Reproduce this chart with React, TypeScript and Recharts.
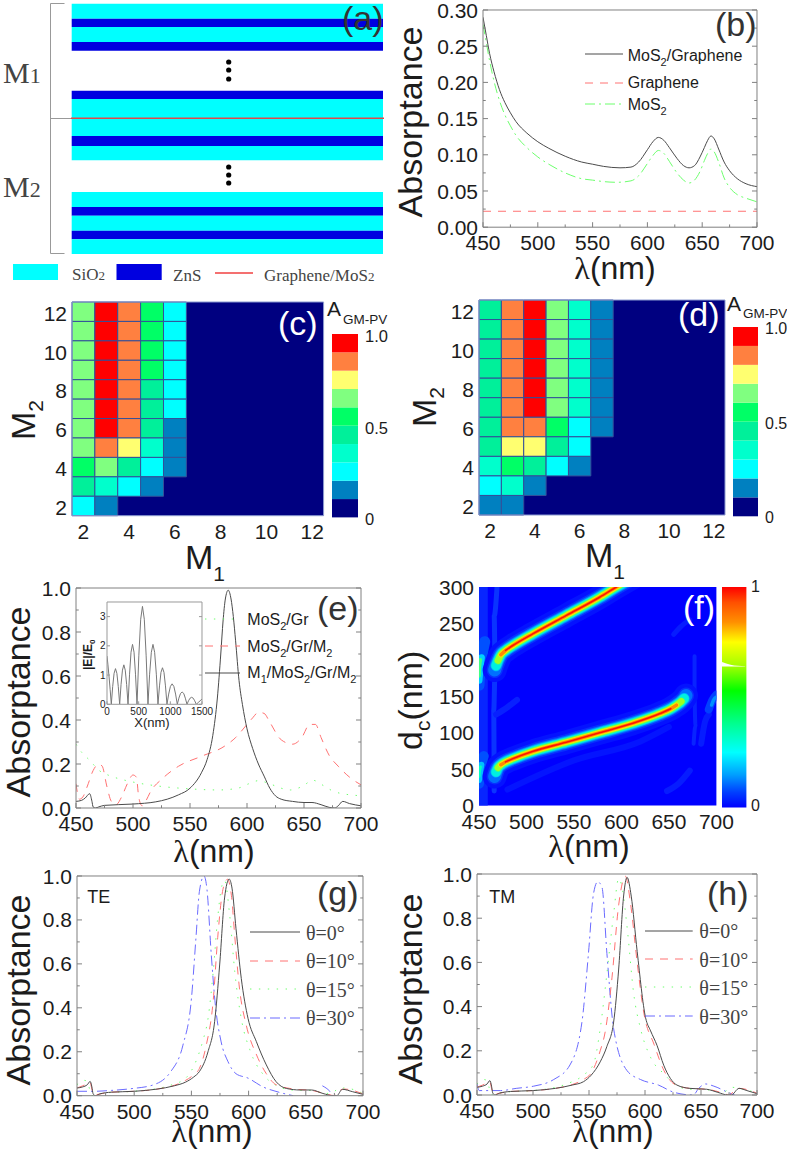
import React from 'react';
import { ComposedChart, XAxis, YAxis, Line, Area, Scatter, ReferenceArea, ReferenceLine } from 'recharts';

const SANS = '"Liberation Sans", Arial, sans-serif';
const SERIF = '"Liberation Serif", "Times New Roman", serif';
const FRAME = '#808080';
const INK = '#1c1c1c';
const BLACK = '#4a4a4a';
const RED = '#ff7272';
const GREEN = '#6cff6c';
const BLUE = '#6a6aff';
const DASH_RED = '8 7';
const DASH_GREEN = '10 4 2 4';
const DASH_GREEN_DOT = '1.4 7.5';
const DASH_BLUE = '10 4 2 4';

type Pt = [number, number | null];

/* ---------- (a) layer stack ---------- */
const SILICA = '#00ffff';
const ZNS = '#0000e0';
const stackX = [71.7, 383];
const layerTop = [3.7, 18.7, 27, 42, 90.7, 99, 118, 136, 146, 192, 207, 215.7, 230.7, 239.3];
const layerEnd = [18.7, 27, 42, 50.7, 99, 118, 136, 146, 160.3, 207, 215.7, 230.7, 239.3, 254];
const layerIsZnS = [0, 1, 0, 1, 1, 0, 0, 1, 0, 0, 1, 0, 1, 0];
const ellipsisDots: Pt[] = [[228.7, 62], [228.7, 70], [228.7, 79], [228.7, 167], [228.7, 175], [228.7, 183]];
const bracketSegments: [Pt, Pt][] = [
  [[64.5, 3.5], [50.5, 3.5]], [[50.5, 3.5], [50.5, 253.5]], [[50.5, 253.5], [64.5, 253.5]], [[50.5, 118.5], [71, 118.5]],
];
const interfaceLine: [Pt, Pt] = [[71, 118.2], [384, 118.2]];
const legendLine: [Pt, Pt] = [[215, 273], [253, 273]];

/* ---------- (b) ---------- */
const bTotal: Pt[] = [[450,.29],[453,.265],[456,.24],[460,.215],[465,.19],[470,.172],[475,.158],[480,.146],[490,.13],[500,.118],[510,.109],[525,.098],[540,.09],[550,.087],[560,.084],[575,.082],[585,.083],[592,.09],[600,.107],[605,.118],[610,.124],[615,.12],[620,.11],[627,.095],[633,.085],[638,.082],[643,.085],[648,.097],[652,.11],[655,.12],[658,.126],[661,.122],[665,.108],[670,.09],[675,.078],[682,.067],[690,.06],[700,.056]];
const bGraphene: Pt[] = [[450,.022],[700,.022]];
const bMoS2: Pt[] = [[450,.28],[453,.255],[456,.23],[460,.202],[465,.175],[470,.155],[475,.14],[480,.127],[490,.11],[500,.097],[510,.087],[525,.075],[540,.067],[550,.065],[560,.063],[572,.062],[585,.064],[592,.071],[600,.088],[605,.099],[610,.106],[615,.102],[620,.091],[627,.075],[633,.065],[638,.061],[643,.065],[648,.077],[652,.092],[655,.102],[658,.108],[661,.104],[665,.09],[670,.068],[675,.055],[682,.045],[690,.04],[700,.035]];

/* ---------- (c) (d) heat maps: colour level per M1 = 2, 3, ... ; rows M2 = 12 down to 2 ---------- */
const levelColors = ['#000080', '#0080c0', '#00ffff', '#00ffcc', '#00f09a', '#00ff66', '#80ff80', '#ffff70', '#ff8040', '#ff0000'];
const heatC = [
  [6, 9, 8, 5, 2], [6, 9, 8, 5, 2], [6, 9, 8, 5, 2], [6, 9, 8, 5, 2], [6, 9, 8, 4, 2], [6, 9, 8, 4, 2],
  [6, 9, 8, 4, 1], [6, 8, 7, 3, 1], [5, 6, 4, 2, 1], [4, 3, 2, 1, 0], [2, 1, 0, 0, 0],
];
const heatD = [
  [4, 8, 9, 6, 3, 1], [4, 8, 9, 6, 3, 1], [4, 8, 9, 6, 3, 1], [4, 8, 9, 6, 3, 1], [4, 8, 9, 6, 3, 1], [4, 8, 9, 6, 3, 1],
  [4, 8, 8, 5, 2, 1], [4, 7, 7, 4, 2, 0], [3, 5, 4, 2, 1, 0], [2, 3, 1, 0, 0, 0], [1, 1, 0, 0, 0, 0],
];
const mTicks = [2, 4, 6, 8, 10, 12];

/* ---------- (e) ---------- */
const eFull: Pt[] = [[450,.03],[455,.035],[458,.045],[462,.065],[464,.03],[465,.005],[467,0],[470,.005],[475,.012],[500,.018],[520,.028],[530,.04],[540,.06],[550,.09],[560,.16],[565,.22],[570,.33],[574,.5],[577,.7],[579,.85],[581,.95],[583.5,.99],[586,.95],[588,.87],[590,.76],[593,.58],[596,.47],[600,.36],[605,.27],[610,.2],[615,.145],[620,.09],[625,.055],[630,.04],[640,.03],[650,.025],[657,.025],[665,.015],[672,.003],[677,0],[680,.01],[684,.03],[690,.02],[700,.01]];
const eHalf: Pt[] = [[450,.11],[453,.04],[456,.05],[460,.1],[465,.17],[470,.2],[473,.19],[477,.1],[481,.03],[485,.015],[490,.05],[495,.11],[500,.15],[503,.14],[505,.05],[508,.01],[511,.03],[516,.08],[525,.13],[540,.19],[560,.235],[580,.28],[590,.32],[600,.38],[605,.41],[610,.435],[615,.43],[620,.39],[630,.31],[640,.29],[648,.32],[655,.38],[660,.38],[665,.32],[672,.24],[680,.19],[690,.14],[700,.105]];
const eBare: Pt[] = [[450,.29],[455,.253],[462,.217],[470,.172],[480,.146],[490,.13],[500,.118],[525,.098],[550,.087],[575,.082],[592,.09],[600,.107],[610,.124],[620,.11],[630,.09],[638,.082],[648,.097],[658,.126],[665,.108],[675,.078],[690,.06],[700,.056]];
const insetField: Pt[] = [[0,1.65],[15,1.35],[30,1],[50,.5],[68,0],[90,.61],[112,1.06],[134,1.22],[156,1.06],[178,.61],[200,0],[222,.68],[244,1.17],[266,1.35],[288,1.17],[310,.68],[332,0],[356,1.03],[379,1.78],[403,2.05],[427,1.78],[450,1.03],[474,0],[503,1.68],[532,2.91],[560,3.35],[589,2.91],[618,1.68],[647,0],[673,1.03],[700,1.78],[726,2.05],[752,1.78],[779,1.03],[805,0],[829,.63],[852,1.09],[876,1.25],[900,1.09],[923,.63],[947,0],[974,.35],[1001,.61],[1028,.7],[1056,.61],[1083,.35],[1110,0],[1135,.21],[1161,.37],[1186,.42],[1212,.37],[1237,.21],[1263,0],[1287,.12],[1312,.21],[1336,.24],[1361,.21],[1385,.12],[1410,0],[1440,.06],[1470,.12],[1500,.18]];

/* ---------- (f) ---------- */
const ridgeLow: Pt[] = [[466.5,40],[468,46],[470,52],[473,56],[478,60],[486,64.5],[507,74.5],[542,87],[577,100],[612,113],[640,126],[652,133],[658,138],[663,143],[666,147],[668,151]];
const ridgeHigh: Pt[] = [[466.5,186],[468,192],[470,199],[473,207],[478,213],[486,220],[507,236],[542,261],[577,286],[594.7,300],[612,313]];
const ridgeBands = [
  { w: 24, c: '#0412ff', trim: 0 }, { w: 16, c: '#0830ff', trim: 0 }, { w: 13, c: '#0070ff', trim: 0 }, { w: 11, c: '#00b0ff', trim: 1 }, { w: 9.5, c: '#00f0e0', trim: 1 }, { w: 8, c: '#30ff90', trim: 2 },
  { w: 6.5, c: '#a0ff20', trim: 2 }, { w: 5, c: '#ffe800', trim: 3 }, { w: 3.4, c: '#ff8a00', trim: 3 }, { w: 1.6, c: '#ff1400', trim: 4 },
];
const fGlows: { pts: Pt[]; w: number; c: string }[] = [
  { pts: [[454.5,0],[454.5,300]], w: 9, c: '#0826ff' },
  { pts: [[466,20],[465.5,130],[467,190],[466,260],[469,300]], w: 5, c: '#0a34ff' },
  { pts: [[468,125],[480,135],[490,145]], w: 6, c: '#0820ff' },
  { pts: [[480,22],[550,62],[620,88],[650,108]], w: 6, c: '#0414ff' },
  { pts: [[677,205],[677,160],[678,110],[676,85]], w: 4, c: '#0824ff' },
  { pts: [[684,85],[688,115],[692,125]], w: 6, c: '#061cff' },
  { pts: [[648,20],[660,30],[672,48]], w: 6, c: '#061cff' },
  { pts: [[655,235],[662,245],[672,255]], w: 5, c: '#061cff' },
  { pts: [[664,146],[668,154],[672,158]], w: 8, c: '#0040ff' },
  { pts: [[692,132],[696,145],[700,152]], w: 8, c: '#0040ff' },
  { pts: [[695,138],[697,145],[700,149]], w: 3.5, c: '#0090ff' },
  { pts: [[450,165],[451,185],[453,205],[456,225]], w: 11, c: '#0050ff' },
  { pts: [[450,172],[451,187],[452.5,203]], w: 7, c: '#00d0ff' },
  { pts: [[450,178],[450.5,190],[451.5,200]], w: 3.5, c: '#40ff80' },
  { pts: [[450,30],[451,45],[453,60],[455,68]], w: 10, c: '#0050ff' },
  { pts: [[450,35],[451,45],[452.5,56]], w: 6, c: '#00c0ff' },
  { pts: [[450,40],[450.5,47],[451.5,53]], w: 3, c: '#00ffc0' },
];
const cbarStops: [number, string][] = [[0,'#ff0000'],[.07,'#ff5000'],[.16,'#ff9000'],[.25,'#ffff00'],[.36,'#a0ff00'],[.47,'#00ff00'],[.62,'#00ff90'],[.75,'#00ffff'],[.85,'#00a0ff'],[.93,'#0040ff'],[1,'#0000ff']];
const cbarNotch = [{ x: 0, band: [.64, .66] }, { x: .35, band: [.64, .648] }, { x: .95, band: [.64, .641] }];

/* ---------- (g) TE ---------- */
const gDeg0: Pt[] = [[450,.035],[455,.04],[459,.05],[461.5,.065],[463,.04],[464,.01],[466,0],[470,.008],[480,.016],[500,.02],[520,.03],[535,.045],[545,.062],[552,.085],[557,.11],[564.5,.2],[570.3,.337],[574.7,.595],[579,.9],[583,.986],[585.5,.945],[589,.76],[593.6,.534],[599.5,.352],[606.8,.246],[615.5,.14],[624,.064],[633,.033],[645,.026],[655,.026],[665,.01],[674,0],[677,0],[682,.029],[691,.018],[700,.006]];
const gDeg10: Pt[] = [[450,.035],[455,.045],[459,.055],[461.5,.06],[463,.03],[465,.003],[470,.008],[480,.016],[500,.02],[520,.03],[535,.047],[545,.07],[552,.095],[557,.124],[563,.23],[569,.43],[573,.72],[577.6,.94],[581.5,.985],[585,.91],[588,.72],[592,.49],[598,.32],[607,.185],[615.5,.1],[624,.05],[640,.03],[655,.024],[670,.005],[675,0],[680,.025],[684,.03],[700,.008]];
const gDeg15: Pt[] = [[450,.05],[456,.07],[459,.065],[461,.03],[463,0],[466,.005],[480,.015],[500,.02],[530,.045],[545,.08],[555,.17],[560,.25],[564.5,.35],[569,.56],[573,.81],[576,.94],[579,.98],[583.5,.82],[588,.56],[594,.34],[601,.21],[613,.095],[623,.05],[640,.025],[655,.024],[665,.012],[672,.01],[678,.03],[684,.035],[700,.01]];
const gDeg30: Pt[] = [[450,.02],[465,.02],[480,.024],[499,.033],[516,.048],[532,.11],[542.6,.23],[550,.44],[554,.72],[557,.93],[561,1],[563.6,.94],[567.4,.64],[571,.41],[576,.245],[582,.155],[589,.1],[599.5,.08],[612.6,.04],[627,.015],[639,0],[640,null],[664,null],[664.5,.045],[671,.02],[674,0]];

/* ---------- (h) TM ---------- */
const hDeg0: Pt[] = [[450,.035],[455,.04],[459,.05],[461.5,.065],[463,.04],[464,.01],[466,0],[470,.008],[480,.016],[500,.02],[520,.03],[535,.045],[545,.06],[552,.09],[560,.15],[566,.22],[572,.33],[576.5,.57],[581,.905],[584,.985],[587.7,.9],[593,.65],[600.5,.35],[605,.29],[610.7,.225],[616.7,.135],[628.5,.045],[640,.03],[655,.026],[665,.012],[674,0],[677,0],[684,.03],[691,.02],[700,.006]];
const hDeg10: Pt[] = [[450,.035],[455,.045],[459,.055],[461.5,.06],[463,.03],[465,.003],[470,.008],[480,.016],[500,.02],[520,.03],[535,.047],[545,.07],[552,.1],[560,.2],[564.6,.29],[570.5,.53],[576.5,.86],[582.5,.99],[587,.87],[593,.6],[599,.37],[608,.23],[617,.11],[626,.05],[640,.03],[655,.026],[670,.008],[675,0],[680,.02],[684,.03],[700,.008]];
const hDeg15: Pt[] = [[450,.05],[456,.07],[459,.065],[461,.03],[463,0],[466,.005],[480,.015],[500,.02],[530,.05],[545,.09],[554,.14],[560,.3],[566,.55],[572,.82],[576.5,.98],[579.5,.94],[584,.76],[590,.455],[596,.3],[605,.17],[617,.095],[629,.04],[640,.026],[655,.024],[670,.012],[677,.035],[684,.03],[700,.01]];
const hDeg30: Pt[] = [[450,.05],[452,.02],[471,.02],[485,.03],[500.6,.04],[518.5,.07],[533,.136],[543.7,.33],[549.5,.64],[554,.91],[557.8,.965],[561.6,.94],[566,.64],[572,.3],[584,.11],[596,.07],[612,.045],[626,.012],[643,0],[648,.03],[654,.05],[661.5,.04],[675,.01],[680,0]];

const lamTicks = [450,475,500,525,550,575,600,625,650,675,700];
const lamMajor = [450,500,550,600,650,700];
const absTicks = [0,.1,.2,.3,.4,.5,.6,.7,.8,.9,1];
const absMajor = [0,.2,.4,.6,.8,1];
const bTicks = [0,.025,.05,.075,.1,.125,.15,.175,.2,.225,.25,.275,.3];
const bMajor = [0,.05,.1,.15,.2,.25,.3];
const dcTicks = [0,50,100,150,200,250,300];

const toPts = (a: Pt[]) => a.map(([x, y]) => ({ x, y }));

type Box = [number, number, number, number];

function makeTick(side: string, major: number[], fmt: ((v: number) => string) | null, o: any) {
  return (p: any) => {
    const v = p.payload.value;
    const isMajor = major.some((m) => Math.abs(m - v) < 1e-6);
    const l = isMajor ? o.len : o.len * 0.55;
    const { x, y } = p;
    const tick =
      side === 'bottom' ? [x, y, x, y - l] : side === 'top' ? [x, y, x, y + l] : side === 'left' ? [x, y, x + l, y] : [x, y, x - l, y];
    return (
      <g>
        {o.len > 0 && <line x1={tick[0]} y1={tick[1]} x2={tick[2]} y2={tick[3]} stroke={o.tickColor} strokeWidth={1} />}
        {isMajor && fmt && side === 'bottom' && (
          <text x={x} y={y + o.xOff} textAnchor="middle" fontSize={o.font} fontFamily={SANS} fill={INK}>{fmt(v)}</text>
        )}
        {isMajor && fmt && side === 'left' && (
          <text x={x - o.yOff} y={y + o.font * 0.36 + (o.yShift || 0)} textAnchor="end" fontSize={o.font} fontFamily={SANS} fill={INK}>{fmt(v)}</text>
        )}
      </g>
    );
  };
}

function Plot(props: any) {
  const { box, xDomain, yDomain, xTicks, yTicks, xMajor, yMajor, xFmt, yFmt, children, frame = FRAME, len = 5, font = 21, xOff = 23, yOff = 5, yShift = 0, mirror = true, tickColor = FRAME, noAxes = false } = props;
  const [l, t, w, h] = box as Box;
  const pad = { left: 70, right: 30, top: 24, bottom: 36 };
  // each visible axis takes one pixel of band from the margin, so the inner box stays where it was measured
  const near = noAxes ? 0 : 1;
  const far = !noAxes && mirror ? 1 : 0;
  const m = { left: pad.left - near, right: pad.right - far, top: pad.top - far, bottom: pad.bottom - near };
  const o = { len, font, xOff, yOff, yShift, tickColor };
  const common = { type: 'number' as const, interval: 0 as const, tickLine: false, tickSize: 0, tickMargin: 0, allowDataOverflow: true };
  const line = frame ? { stroke: frame } : false;
  return (
    <div style={{ position: 'absolute', left: l - pad.left, top: t - pad.top }}>
      <ComposedChart width={w + pad.left + pad.right} height={h + pad.top + pad.bottom} margin={m}>
        {children}
        <XAxis xAxisId={0} dataKey="x" hide={noAxes} height={1} domain={xDomain} ticks={xTicks} orientation="bottom" axisLine={line} tick={makeTick('bottom', xMajor, xFmt, o)} {...common} />
        <YAxis yAxisId={0} dataKey="y" hide={noAxes} width={1} domain={yDomain} ticks={yTicks} orientation="left" axisLine={line} tick={makeTick('left', yMajor, yFmt, o)} {...common} />
        {mirror && <XAxis xAxisId="top" height={1} domain={xDomain} ticks={xTicks} orientation="top" axisLine={line} tick={makeTick('top', xMajor, null, o)} {...common} />}
        {mirror && <YAxis yAxisId="right" width={1} domain={yDomain} ticks={yTicks} orientation="right" axisLine={line} tick={makeTick('right', yMajor, null, o)} {...common} />}
      </ComposedChart>
    </div>
  );
}

const curve = (key: string, pts: Pt[], stroke: string, dash?: string, width = 1) => (
  <Line key={key} data={toPts(pts)} dataKey="y" type="monotone" stroke={stroke} strokeWidth={width} strokeDasharray={dash} dot={false} activeDot={false} isAnimationActive={false} xAxisId={0} yAxisId={0} />
);

function Heat({ box, grid }: { box: Box; grid: number[][] }) {
  const cells = grid.flatMap((row, r) =>
    row.map((lv, c) => ({ m1: c + 2, m2: 12 - r, lv }))
  );
  return (
    <Plot box={box} xDomain={[1.5, 12.5]} yDomain={[1.5, 12.5]} xTicks={mTicks} yTicks={mTicks} xMajor={mTicks} yMajor={mTicks}
      xFmt={String} yFmt={String} len={0} frame="#8c9bd0" yShift={1.5}>
      <ReferenceArea x1={1.5} x2={12.5} y1={1.5} y2={12.5} fill={levelColors[0]} fillOpacity={1} stroke="none" xAxisId={0} yAxisId={0} />
      {cells.filter((k) => k.lv > 0).map((k) => (
        <ReferenceArea key={`${k.m1}-${k.m2}`} x1={k.m1 - .5} x2={k.m1 + .5} y1={k.m2 - .5} y2={k.m2 + .5} fill={levelColors[k.lv]} fillOpacity={1} stroke="#33509a" strokeWidth={1} xAxisId={0} yAxisId={0} />
      ))}
    </Plot>
  );
}

function LevelBar({ box }: { box: Box }) {
  return (
    <Plot box={box} noAxes mirror={false} xDomain={[0, 1]} yDomain={[0, 10]} xTicks={[0, 1]} yTicks={[0, 10]} xMajor={[]} yMajor={[]}>
      {levelColors.map((c, i) => (
        <ReferenceArea key={c} x1={0} x2={1} y1={i} y2={i + 1} fill={c} fillOpacity={1} stroke="none" xAxisId={0} yAxisId={0} />
      ))}
    </Plot>
  );
}

const Tx = ({ x, y, size, fam = SANS, fill = INK, anchor = 'start', rot = false, children }: any) => (
  <text x={x} y={y} fontSize={size} fontFamily={fam} fill={fill} textAnchor={anchor} transform={rot ? `rotate(-90 ${x} ${y})` : undefined}>{children}</text>
);
const Sub = ({ dy = 5, size, children }: any) => (
  <tspan baselineShift={-dy} fontSize={size}>{children}</tspan>
);
const Lam = () => <tspan fontFamily={SERIF}>λ</tspan>;
const LamTitle = ({ x, y }: any) => <Tx x={x} y={y} size={32} anchor="middle"><Lam />(nm)</Tx>;
const AbsTitle = ({ x, y }: any) => <Tx x={x} y={y} size={34} anchor="middle" rot>Absorptance</Tx>;
const Sample = ({ x1, x2, y, stroke, dash }: any) => <line x1={x1} x2={x2} y1={y} y2={y} stroke={stroke} strokeWidth={1} strokeDasharray={dash} />;
const PanelTag = ({ x, y, t, fill = '#333' }: any) => <Tx x={x} y={y} size={34} fill={fill}>{t}</Tx>;

function Overlay() {
  const gray = '#444';
  return (
    <svg width={787} height={1153} style={{ position: 'absolute', left: 0, top: 0, pointerEvents: 'none' }}>
      {/* (a) */}
      <PanelTag x={342} y={30} t="(a)" />
      <Tx x={3} y={83} size={30} fam={SERIF} fill={gray}>M<tspan fontSize={22}>1</tspan></Tx>
      <Tx x={3} y={197} size={30} fam={SERIF} fill={gray}>M<tspan fontSize={22}>2</tspan></Tx>
      <Tx x={72} y={280} size={17} fam={SERIF} fill={gray}>SiO<tspan fontSize={13}>2</tspan></Tx>
      <Tx x={173} y={281} size={17} fam={SERIF} fill={gray}>ZnS</Tx>
      <Tx x={264} y={281} size={17} fam={SERIF} fill={gray}>Graphene/MoS<tspan fontSize={13}>2</tspan></Tx>
      {/* (b) */}
      <PanelTag x={715} y={36} t="(b)" />
      <AbsTitle x={422} y={122} />
      <LamTitle x={615} y={279} />
      <Sample x1={585} x2={623} y={54} stroke={BLACK} />
      <Sample x1={585} x2={623} y={83} stroke={RED} dash={DASH_RED} />
      <Sample x1={585} x2={623} y={104} stroke={GREEN} dash={DASH_GREEN} />
      <Tx x={627.7} y={60.7} size={16}>MoS<Sub dy={5} size={11}>2</Sub>/Graphene</Tx>
      <Tx x={627.7} y={88.3} size={16}>Graphene</Tx>
      <Tx x={627.7} y={110} size={16}>MoS<Sub dy={5} size={11}>2</Sub></Tx>
      {/* (c) */}
      <PanelTag x={278} y={335} t="(c)" fill="#fff" />
      <Tx x={327} y={315.7} size={21}>A</Tx>
      <Tx x={343} y={324} size={13.5}>GM-PV</Tx>
      <Tx x={365} y={342} size={16.5}>1.0</Tx>
      <Tx x={365} y={433.5} size={16.5}>0.5</Tx>
      <Tx x={365} y={525} size={16.5}>0</Tx>
      <g transform="rotate(-90 35 440)">
        <Tx x={35} y={440} size={34}>M<Sub dy={8} size={21}>2</Sub></Tx>
      </g>
      <Tx x={185} y={569} size={34}>M<Sub dy={12} size={21}>1</Sub></Tx>
      {/* (d) */}
      <PanelTag x={678} y={326} t="(d)" fill="#fff" />
      <Tx x={727} y={311} size={21}>A</Tx>
      <Tx x={743} y={318} size={13.5}>GM-PV</Tx>
      <Tx x={765} y={334} size={16}>1.0</Tx>
      <Tx x={765} y={429} size={16}>0.5</Tx>
      <Tx x={765} y={523} size={16}>0</Tx>
      <g transform="rotate(-90 436 427)">
        <Tx x={436} y={427} size={34}>M<Sub dy={8} size={21}>2</Sub></Tx>
      </g>
      <Tx x={585} y={567} size={34}>M<Sub dy={12} size={21}>1</Sub></Tx>
      {/* (e) */}
      <PanelTag x={317} y={620} t="(e)" />
      <AbsTitle x={30} y={702} />
      <LamTitle x={214} y={862} />
      <Sample x1={205} x2={240} y={619} stroke={GREEN} dash={DASH_GREEN_DOT} />
      <Sample x1={205} x2={240} y={646} stroke={RED} dash={DASH_RED} />
      <Sample x1={205} x2={240} y={673} stroke={BLACK} />
      <Tx x={247.3} y={625} size={16}>MoS<Sub dy={5} size={11}>2</Sub>/Gr</Tx>
      <Tx x={247.3} y={651.7} size={16}>MoS<Sub dy={5} size={11}>2</Sub>/Gr/M<Sub dy={5} size={11}>2</Sub></Tx>
      <Tx x={247.3} y={678.3} size={16}>M<Sub dy={5} size={11}>1</Sub>/MoS<Sub dy={5} size={11}>2</Sub>/Gr/M<Sub dy={5} size={11}>2</Sub></Tx>
      <Tx x={152} y={726.7} size={13} anchor="middle">X(nm)</Tx>
      <g transform="rotate(-90 92 670)">
        <text x={92} y={670} fontSize={12} fontFamily={SANS} fontWeight="bold" fill={INK}>|E|/E<Sub dy={3} size={8}>0</Sub></text>
      </g>
      {/* (f) */}
      <PanelTag x={683} y={619} t="(f)" fill="#fff" />
      <Tx x={751} y={592} size={16}>1</Tx>
      <Tx x={751} y={811} size={16}>0</Tx>
      <g transform="rotate(-90 422 750)">
        <Tx x={422} y={750} size={34}>d<Sub dy={8} size={21}>c</Sub>(nm)</Tx>
      </g>
      <LamTitle x={589} y={857} />
      {/* (g) */}
      <PanelTag x={317} y={905} t="(g)" />
      <Tx x={87.3} y={902.7} size={18}>TE</Tx>
      <AbsTitle x={30} y={990} />
      <LamTitle x={212} y={1142} />
      <Sample x1={250} x2={300} y={932} stroke={BLACK} />
      <Sample x1={250} x2={300} y={961} stroke={RED} dash={DASH_RED} />
      <Sample x1={250} x2={300} y={989} stroke={GREEN} dash={DASH_GREEN_DOT} />
      <Sample x1={250} x2={300} y={1018} stroke={BLUE} dash={DASH_BLUE} />
      <Tx x={306} y={940} size={20} fam={SERIF} fill={gray}>θ=0°</Tx>
      <Tx x={306} y={968} size={20} fam={SERIF} fill={gray}>θ=10°</Tx>
      <Tx x={306} y={997} size={20} fam={SERIF} fill={gray}>θ=15°</Tx>
      <Tx x={306} y={1025} size={20} fam={SERIF} fill={gray}>θ=30°</Tx>
      {/* (h) */}
      <PanelTag x={707} y={905} t="(h)" />
      <Tx x={489.3} y={902.7} size={18}>TM</Tx>
      <AbsTitle x={422} y={989} />
      <LamTitle x={613} y={1142} />
      <Sample x1={645} x2={692.7} y={931} stroke={BLACK} />
      <Sample x1={645} x2={692.7} y={959} stroke={RED} dash={DASH_RED} />
      <Sample x1={645} x2={692.7} y={987} stroke={GREEN} dash={DASH_GREEN_DOT} />
      <Sample x1={645} x2={692.7} y={1016} stroke={BLUE} dash={DASH_BLUE} />
      <Tx x={699.3} y={938} size={20} fam={SERIF} fill={gray}>θ=0°</Tx>
      <Tx x={699.3} y={966.7} size={20} fam={SERIF} fill={gray}>θ=10°</Tx>
      <Tx x={699.3} y={995} size={20} fam={SERIF} fill={gray}>θ=15°</Tx>
      <Tx x={699.3} y={1024} size={20} fam={SERIF} fill={gray}>θ=30°</Tx>
    </svg>
  );
}

function Stack() {
  const seg = (k: string, s: [Pt, Pt], c: string, w = 1) => (
    <ReferenceLine key={k} segment={[{ x: s[0][0], y: s[0][1] as number }, { x: s[1][0], y: s[1][1] as number }]} stroke={c} strokeWidth={w} xAxisId={0} yAxisId={0} />
  );
  return (
    <Plot box={[0, 0, 400, 290]} noAxes mirror={false} xDomain={[0, 400]} yDomain={[290, 0]} xTicks={[0]} yTicks={[0]} xMajor={[]} yMajor={[]}>
      {layerTop.map((t, i) => (
        <ReferenceArea key={i} x1={stackX[0]} x2={stackX[1]} y1={t} y2={layerEnd[i]} fill={layerIsZnS[i] ? ZNS : SILICA} fillOpacity={1} stroke="none" xAxisId={0} yAxisId={0} />
      ))}
      <ReferenceArea x1={13} x2={58} y1={264} y2={280} fill={SILICA} fillOpacity={1} stroke="none" xAxisId={0} yAxisId={0} />
      <ReferenceArea x1={116.5} x2={161.7} y1={264} y2={280} fill={ZNS} fillOpacity={1} stroke="none" xAxisId={0} yAxisId={0} />
      {bracketSegments.map((s, i) => seg(`br${i}`, s, '#999'))}
      {seg('if', interfaceLine, '#e04a4a', 1.5)}
      {seg('lg', legendLine, '#f04040', 1.4)}
      <Scatter data={toPts(ellipsisDots)} dataKey="y" isAnimationActive={false} xAxisId={0} yAxisId={0}
        shape={(p: any) => <circle cx={p.cx} cy={p.cy} r={2.6} fill="#000" />} />
    </Plot>
  );
}

function Contour() {
  const band = (k: string, pts: Pt[], c: string, w: number, kind: any = 'monotone') => (
    <Line key={k} data={toPts(pts)} dataKey="y" type={kind} stroke={c} strokeWidth={w} strokeLinecap="round" strokeLinejoin="round" dot={false} activeDot={false} isAnimationActive={false} xAxisId={0} yAxisId={0} />
  );
  return (
    <Plot box={[479.3, 586.7, 237.4, 218.6]} frame={null} len={0} mirror={false} xDomain={[450, 700]} yDomain={[0, 300]}
      xTicks={lamMajor} yTicks={dcTicks} xMajor={lamMajor} yMajor={dcTicks} xFmt={String} yFmt={String} yOff={5}>
      <ReferenceArea x1={450} x2={700} y1={0} y2={300} fill="#0000ff" fillOpacity={1} stroke="none" xAxisId={0} yAxisId={0} />
      {fGlows.map((g, i) => band(`g${i}`, g.pts, g.c, g.w, 'monotone'))}
      {ridgeBands.map((b, i) => band(`l${i}`, ridgeLow.slice(b.trim, ridgeLow.length - b.trim), b.c, b.w))}
      {ridgeBands.map((b, i) => band(`h${i}`, ridgeHigh.slice(b.trim), b.c, b.w))}
    </Plot>
  );
}

function GradientBar({ box }: { box: Box }) {
  return (
    <Plot box={box} noAxes mirror={false} xDomain={[0, 1]} yDomain={[0, 1]} xTicks={[0, 1]} yTicks={[0, 1]} xMajor={[]} yMajor={[]}>
      <defs>
        <linearGradient id="fbar" x1="0" y1="0" x2="0" y2="1">
          {cbarStops.map(([o, c]) => <stop key={o} offset={o} stopColor={c} />)}
        </linearGradient>
      </defs>
      <ReferenceArea x1={0} x2={1} y1={0} y2={1} fill="url(#fbar)" fillOpacity={1} stroke="none" xAxisId={0} yAxisId={0} />
      <Area data={cbarNotch} dataKey="band" type="monotone" fill="#fff" fillOpacity={1} stroke="none" dot={false} activeDot={false} isAnimationActive={false} xAxisId={0} yAxisId={0} />
    </Plot>
  );
}

const f1 = (v: number) => v.toFixed(1);
const f2 = (v: number) => v.toFixed(2);

export default function App() {
  return (
    <div style={{ position: 'absolute', left: 0, top: 0, width: 787, height: 1153, background: '#fff', overflow: 'hidden' }}>
      <Stack />
      <Plot box={[482.7, 9.5, 274, 217.2]} xDomain={[450, 700]} yDomain={[0, .3]} xTicks={lamTicks} yTicks={bTicks} xMajor={lamMajor} yMajor={bMajor} xFmt={String} yFmt={f2}>
        {curve('g', bMoS2, GREEN, DASH_GREEN)}
        {curve('r', bGraphene, RED, DASH_RED)}
        {curve('k', bTotal, BLACK)}
      </Plot>
      <Heat box={[71.7, 302.3, 251.6, 213.7]} grid={heatC} />
      <LevelBar box={[332.3, 334.3, 26, 183.4]} />
      <Heat box={[479, 300, 246, 215]} grid={heatD} />
      <LevelBar box={[733.3, 326.7, 25, 189.3]} />
      <Plot box={[75.7, 588.3, 285, 220]} xDomain={[450, 700]} yDomain={[0, 1]} xTicks={lamTicks} yTicks={absTicks} xMajor={lamMajor} yMajor={absMajor} xFmt={String} yFmt={f1}>
        {curve('g', eBare, GREEN, DASH_GREEN_DOT)}
        {curve('r', eHalf, RED, DASH_RED)}
        {curve('k', eFull, BLACK)}
      </Plot>
      <Plot box={[106.7, 601.7, 95, 102.3]} len={3} font={10} xOff={11} yOff={1.5} frame="#999" tickColor="#999" xDomain={[0, 1500]} yDomain={[0, 3.5]} xTicks={[0, 500, 1000, 1500]} yTicks={[0, 1, 2, 3]} xMajor={[0, 500, 1000, 1500]} yMajor={[0, 1, 2, 3]} xFmt={String} yFmt={String}>
        <Line data={toPts(insetField)} dataKey="y" type="linear" stroke="#777" strokeWidth={1} dot={false} activeDot={false} isAnimationActive={false} xAxisId={0} yAxisId={0} />
      </Plot>
      <Contour />
      <GradientBar box={[722.3, 586.7, 24.4, 220.6]} />
      <Plot box={[77.3, 876, 286, 219.7]} xDomain={[450, 700]} yDomain={[0, 1]} xTicks={lamTicks} yTicks={absTicks} xMajor={lamMajor} yMajor={absMajor} xFmt={String} yFmt={f1}>
        {curve('b', gDeg30, BLUE, DASH_BLUE)}
        {curve('g', gDeg15, GREEN, DASH_GREEN_DOT)}
        {curve('r', gDeg10, RED, DASH_RED)}
        {curve('k', gDeg0, BLACK)}
      </Plot>
      <Plot box={[476.7, 874, 280, 221]} xDomain={[450, 700]} yDomain={[0, 1]} xTicks={lamTicks} yTicks={absTicks} xMajor={lamMajor} yMajor={absMajor} xFmt={String} yFmt={f1}>
        {curve('b', hDeg30, BLUE, DASH_BLUE)}
        {curve('g', hDeg15, GREEN, DASH_GREEN_DOT)}
        {curve('r', hDeg10, RED, DASH_RED)}
        {curve('k', hDeg0, BLACK)}
      </Plot>
      <Overlay />
    </div>
  );
}
